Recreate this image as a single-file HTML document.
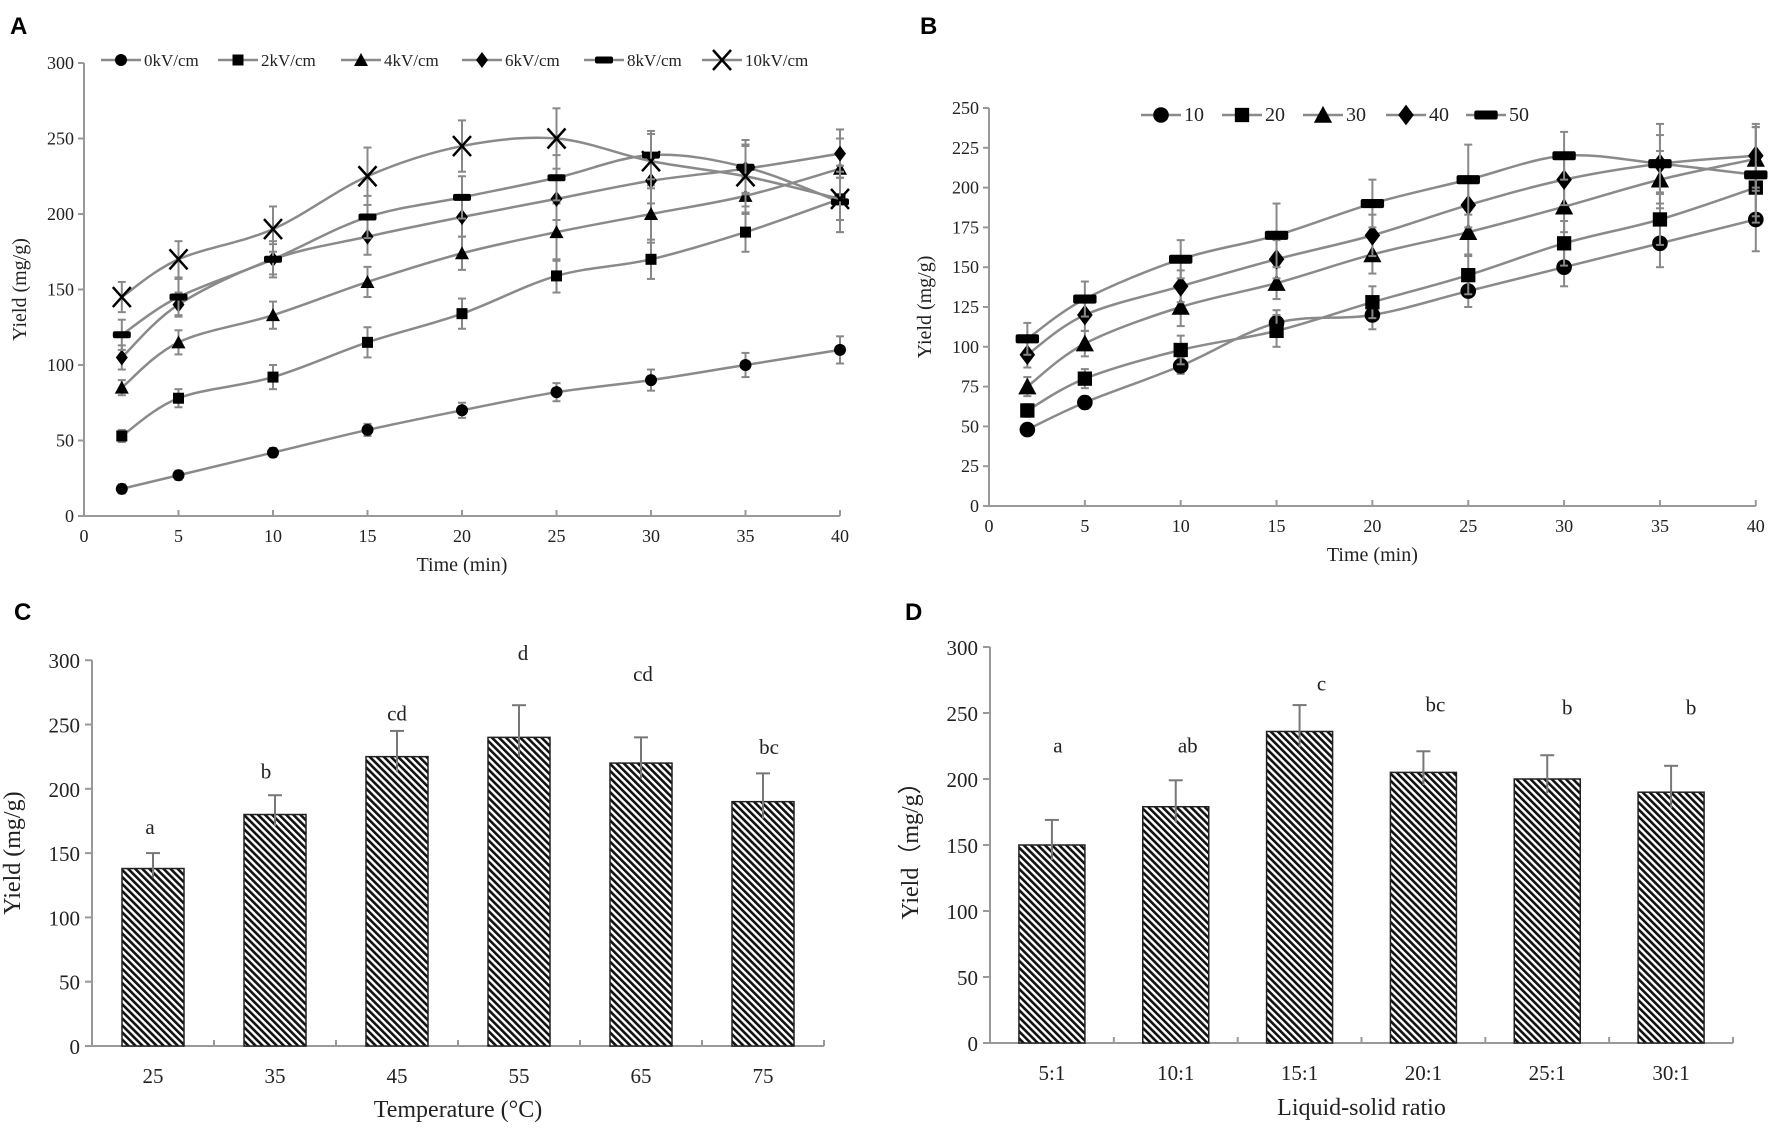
<!DOCTYPE html>
<html><head><meta charset="utf-8"><style>
html,body{margin:0;padding:0;background:#fff;}
svg{display:block;}
text{font-family:"Liberation Serif",serif;fill:#222;}
.pl{font-family:"Liberation Sans",sans-serif;font-weight:bold;fill:#000;}
</style></head><body>
<svg id="s" width="1772" height="1132" viewBox="0 0 1772 1132" xmlns="http://www.w3.org/2000/svg">
<defs>
<pattern id="h" patternUnits="userSpaceOnUse" width="5" height="5" patternTransform="rotate(-45)">
<rect width="5" height="5" fill="#fff"/><rect width="2.6" height="5" fill="#111"/>
</pattern>
</defs>
<text class="pl" x="10" y="34" font-size="24">A</text>
<text class="pl" x="920" y="34" font-size="24">B</text>
<text class="pl" x="14" y="620" font-size="24">C</text>
<text class="pl" x="905" y="620" font-size="24">D</text>
</svg>
<script>
const S=document.getElementById('s');const NS='http://www.w3.org/2000/svg';
function el(t,a,txt){const e=document.createElementNS(NS,t);for(const k in a)e.setAttribute(k,a[k]);if(txt!==undefined)e.textContent=txt;S.appendChild(e);return e;}
function line(x1,y1,x2,y2,c,w){el('line',{x1,y1,x2,y2,stroke:c||'#888','stroke-width':w||2});}
function txt(x,y,s,fs,anchor,extra){const a={x,y,'font-size':fs,'text-anchor':anchor||'middle'};Object.assign(a,extra||{});el('text',a,s);}
function smooth(p){let d='M'+p[0][0]+','+p[0][1];for(let i=0;i<p.length-1;i++){const p0=p[i-1]||p[i],p1=p[i],p2=p[i+1],p3=p[i+2]||p2;const t=6;
d+=' C'+(p1[0]+(p2[0]-p0[0])/t)+','+(p1[1]+(p2[1]-p0[1])/t)+' '+(p2[0]-(p3[0]-p1[0])/t)+','+(p2[1]-(p3[1]-p1[1])/t)+' '+p2[0]+','+p2[1];}return d;}
function marker(type,x,y,s){s=s||1;
 if(type=='c')el('circle',{cx:x,cy:y,r:6*s,fill:'#000'});
 else if(type=='s')el('rect',{x:x-5.5*s,y:y-5.5*s,width:11*s,height:11*s,fill:'#000'});
 else if(type=='t')el('polygon',{points:`${x},${y-7*s} ${x+7*s},${y+6*s} ${x-7*s},${y+6*s}`,fill:'#000'});
 else if(type=='d')el('polygon',{points:`${x},${y-8*s} ${x+6*s},${y} ${x},${y+8*s} ${x-6*s},${y}`,fill:'#000'});
 else if(type=='m')el('rect',{x:x-9*s,y:y-3.5*s,width:18*s,height:7*s,rx:2,fill:'#000'});
 else if(type=='x'){line(x-9*s,y-10*s,x+9*s,y+10*s,'#000',2.5);line(x-9*s,y+10*s,x+9*s,y-10*s,'#000',2.5);}
}
const T=[2,5,10,15,20,25,30,35,40];
function linePanel(o){
 const X=v=>o.x0+v*o.px,Y=v=>o.y0-v*o.py;
 line(o.x0,Y(o.ymax),o.x0,o.y0,'#999',2);line(o.x0,o.y0,X(40),o.y0,'#999',2);
 for(let v=0;v<=o.ymax;v+=o.ystep){line(o.x0-6,Y(v),o.x0,Y(v),'#999',2);txt(o.x0-10,Y(v)+6,v,18,'end');}
 for(let v=0;v<=40;v+=5){line(X(v),o.y0,X(v),o.y0-6,'#999',2);txt(X(v),o.y0+26,v,18);}
 txt((o.x0+X(40))/2,o.y0+55,'Time (min)',20);
 txt(0,0,'Yield (mg/g)',20,'middle',{transform:`translate(${o.x0-58},${(o.y0+Y(o.ymax))/2}) rotate(-90)`});
 o.series.forEach(s=>{const pts=T.map((t,i)=>[X(t),Y(s.v[i])]);
  el('path',{d:smooth(pts),fill:'none',stroke:'#8a8a8a','stroke-width':2.5});
  pts.forEach((p,i)=>{const e=s.e[i]*o.py;line(p[0],p[1]-e,p[0],p[1]+e,'#888',2);line(p[0]-4,p[1]-e,p[0]+4,p[1]-e,'#888',2);line(p[0]-4,p[1]+e,p[0]+4,p[1]+e,'#888',2);});
  pts.forEach(p=>marker(s.m,p[0],p[1],o.ms));});
 o.legend.forEach(l=>{line(l[0]-20,o.ly,l[0]+20,o.ly,'#8a8a8a',2.5);marker(l[1],l[0],o.ly,o.ms);txt(l[0]+23,o.ly+6,l[2],l[3]||17,'start');});
}
linePanel({x0:84,y0:516,px:18.9,py:1.51,ymax:300,ystep:50,ms:1,ly:60,
 series:[
 {m:'c',v:[18,27,42,57,70,82,90,100,110],e:[3,3,3,4,5,6,7,8,9]},
 {m:'s',v:[53,78,92,115,134,159,170,188,210],e:[4,6,8,10,10,11,13,13,14]},
 {m:'t',v:[85,115,133,155,174,188,200,212,230],e:[5,8,9,10,11,19,19,12,20]},
 {m:'d',v:[105,140,170,185,198,210,222,230,240],e:[8,8,10,12,13,14,15,16,16]},
 {m:'m',v:[120,145,170,198,211,224,239,231,208],e:[10,12,12,14,14,15,16,18,20]},
 {m:'x',v:[145,170,190,225,245,250,235,225,210],e:[10,12,15,19,17,20,18,20,22]}],
 legend:[[121,'c','0kV/cm'],[238,'s','2kV/cm'],[361,'t','4kV/cm'],[482,'d','6kV/cm'],[604,'m','8kV/cm'],[722,'x','10kV/cm']]});
linePanel({x0:989,y0:506,px:19.17,py:1.592,ymax:250,ystep:25,ms:1.3,ly:115,
 series:[
 {m:'c',v:[48,65,88,115,120,135,150,165,180],e:[3,4,5,8,9,10,12,15,20]},
 {m:'s',v:[60,80,98,110,128,145,165,180,200],e:[4,6,9,10,10,12,14,16,18]},
 {m:'t',v:[75,102,125,140,158,172,188,205,218],e:[6,8,12,10,12,14,16,18,20]},
 {m:'d',v:[95,120,138,155,170,189,205,215,220],e:[8,10,10,12,13,14,16,18,20]},
 {m:'m',v:[105,130,155,170,190,205,220,215,208],e:[10,11,12,20,15,22,15,25,30]}],
 legend:[[1161,'c','10',20],[1242,'s','20',20],[1323,'t','30',20],[1406,'d','40',20],[1486,'m','50',20]]});
function barPanel(o){
 const Y=v=>o.y0-v*o.py;
 line(o.x0,Y(300),o.x0,o.y0,'#999',2);line(o.x0,o.y0,o.x1,o.y0,'#999',2);
 for(let v=0;v<=300;v+=50){line(o.x0-7,Y(v),o.x0,Y(v),'#999',2);txt(o.x0-12,Y(v)+8,v,21,'end');}
 const cw=(o.x1-o.x0)/6;
 for(let i=1;i<=6;i++)line(o.x0+i*cw,o.y0,o.x0+i*cw,o.y0-6,'#999',2);
 o.v.forEach((v,i)=>{const c=o.x0+cw*(i+0.5);
  el('rect',{x:c-o.bw/2,y:Y(v),width:o.bw,height:v*o.py,fill:'url(#h)',stroke:'#222','stroke-width':1.5});
  const e=o.e[i]*o.py;line(c,Y(v)-e,c,Y(v)+e*0.6,'#777',2);line(c-7,Y(v)-e,c+7,Y(v)-e,'#777',2);
  txt(c,o.y0+37,o.lab[i],21);
  txt(c+o.lo[i],Y(o.lv[i]),o.let[i],21);});
 txt((o.x0+o.x1)/2,o.title_y,o.title,24);
 txt(0,0,o.ytitle,24,'middle',{transform:`translate(${o.x0-72},${(o.y0+Y(300))/2}) rotate(-90)`});
}
barPanel({x0:92,x1:824,y0:1046,py:1.286,bw:62,v:[138,180,225,240,220,190],e:[12,15,20,25,20,22],
 lab:['25','35','45','55','65','75'],let:['a','b','cd','d','cd','bc'],lv:[165,208,253,300,284,227],lo:[-3,-9,0,4,2,6],
 title:'Temperature (°C)',title_y:1117,ytitle:'Yield (mg/g)'});
barPanel({x0:990,x1:1733,y0:1043,py:1.32,bw:66,v:[150,179,236,205,200,190],e:[19,20,20,16,18,20],
 lab:['5:1','10:1','15:1','20:1','25:1','30:1'],let:['a','ab','c','bc','b','b'],lv:[220,220,267,251,249,249],lo:[6,12,22,12,20,20],
 title:'Liquid-solid ratio',title_y:1115,ytitle:'Yield（mg/g）'});
</script>
</body></html>
